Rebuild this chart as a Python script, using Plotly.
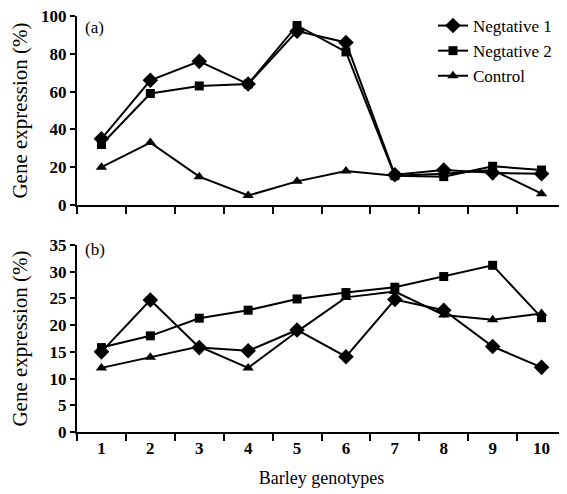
import plotly.graph_objects as go

genotypes = ["1", "2", "3", "4", "5", "6", "7", "8", "9", "10"]

a_neg1 = [35, 66, 76, 64, 92, 86, 16, 18.5, 17, 16.5]
a_neg2 = [32, 59, 63, 64, 95, 81, 15.5, 15, 20.5, 18.5]
a_ctrl = [20, 33, 15, 5, 12.5, 18, 15.5, 16.5, 18.5, 6]

b_neg1 = [15.0, 24.7, 15.8, 15.2, 19.1, 14.1, 24.8, 22.8, 16.0, 12.1]
b_neg2 = [15.8, 18.0, 21.3, 22.8, 24.9, 26.1, 27.1, 29.1, 31.2, 21.4]
b_ctrl = [12.0, 14.0, 16.0, 12.0, 18.8, 25.2, 26.3, 21.9, 21.0, 22.2]

series_names = ["Negtative 1", "Negtative 2", "Control"]
symbols = ["diamond", "square", "triangle-up"]
msizes = [12, 9, 10]

FONT = "Liberation Serif, Times New Roman, serif"

fig = go.Figure()

for vals, name, sym, ms in zip([a_neg1, a_neg2, a_ctrl], series_names, symbols, msizes):
    fig.add_trace(go.Scatter(
        x=genotypes, y=vals, mode="lines+markers", name=name,
        line=dict(color="black", width=2),
        marker=dict(symbol=sym, size=ms, color="black"),
        xaxis="x", yaxis="y", cliponaxis=False, legendgroup=name))

for vals, name, sym, ms in zip([b_neg1, b_neg2, b_ctrl], series_names, symbols, msizes):
    fig.add_trace(go.Scatter(
        x=genotypes, y=vals, mode="lines+markers", name=name,
        line=dict(color="black", width=2),
        marker=dict(symbol=sym, size=ms, color="black"),
        xaxis="x2", yaxis="y2", cliponaxis=False, showlegend=False, legendgroup=name))

tickfont = dict(family=FONT, size=17, color="black", weight="bold")
axis_common = dict(showline=True, linecolor="black", linewidth=2, showgrid=False,
                   zeroline=False, ticks="outside", tickcolor="black", tickwidth=2,
                   tickfont=tickfont, automargin=False)

# page body has an 8px default margin, so the figure is 8px smaller than the window
fig.update_layout(
    width=559, height=486,
    margin=dict(l=69, r=1, t=0, b=62),
    paper_bgcolor="white", plot_bgcolor="white",
    font=dict(family=FONT, color="black", size=17),
    xaxis=dict(domain=[0, 1], anchor="y", type="category", tickson="boundaries",
               range=[-0.5, 9.5], showticklabels=False, ticklen=7, **axis_common),
    yaxis=dict(domain=[0.5354, 0.9811], anchor="x", range=[0, 100], dtick=20, ticklen=5,
               ticklabeloverflow="allow",
               title=dict(text="Gene expression (%)", font=dict(family=FONT, size=21), standoff=8),
               **axis_common),
    xaxis2=dict(domain=[0, 1], anchor="y2", type="category", tickson="boundaries",
                range=[-0.5, 9.5], ticklen=7,
                title=dict(text="Barley genotypes", font=dict(family=FONT, size=18), standoff=14),
                **axis_common),
    yaxis2=dict(domain=[0, 0.441], anchor="x2", range=[0, 35], dtick=5, ticklen=5,
                ticklabeloverflow="allow",
                title=dict(text="Gene expression (%)", font=dict(family=FONT, size=21), standoff=16),
                **axis_common),
    legend=dict(x=0.728, xanchor="left", y=1.0, yanchor="top", bgcolor="rgba(0,0,0,0)",
                font=dict(family=FONT, size=17), tracegroupgap=0, itemwidth=30),
    showlegend=True,
    annotations=[
        dict(text="(a)", x=0.012, y=0.955, xref="paper", yref="paper", xanchor="left",
             yanchor="middle", showarrow=False, font=dict(family=FONT, size=17)),
        dict(text="(b)", x=0.012, y=0.43, xref="paper", yref="paper", xanchor="left",
             yanchor="middle", showarrow=False, font=dict(family=FONT, size=17)),
    ],
)

fig.write_html("out.html")
